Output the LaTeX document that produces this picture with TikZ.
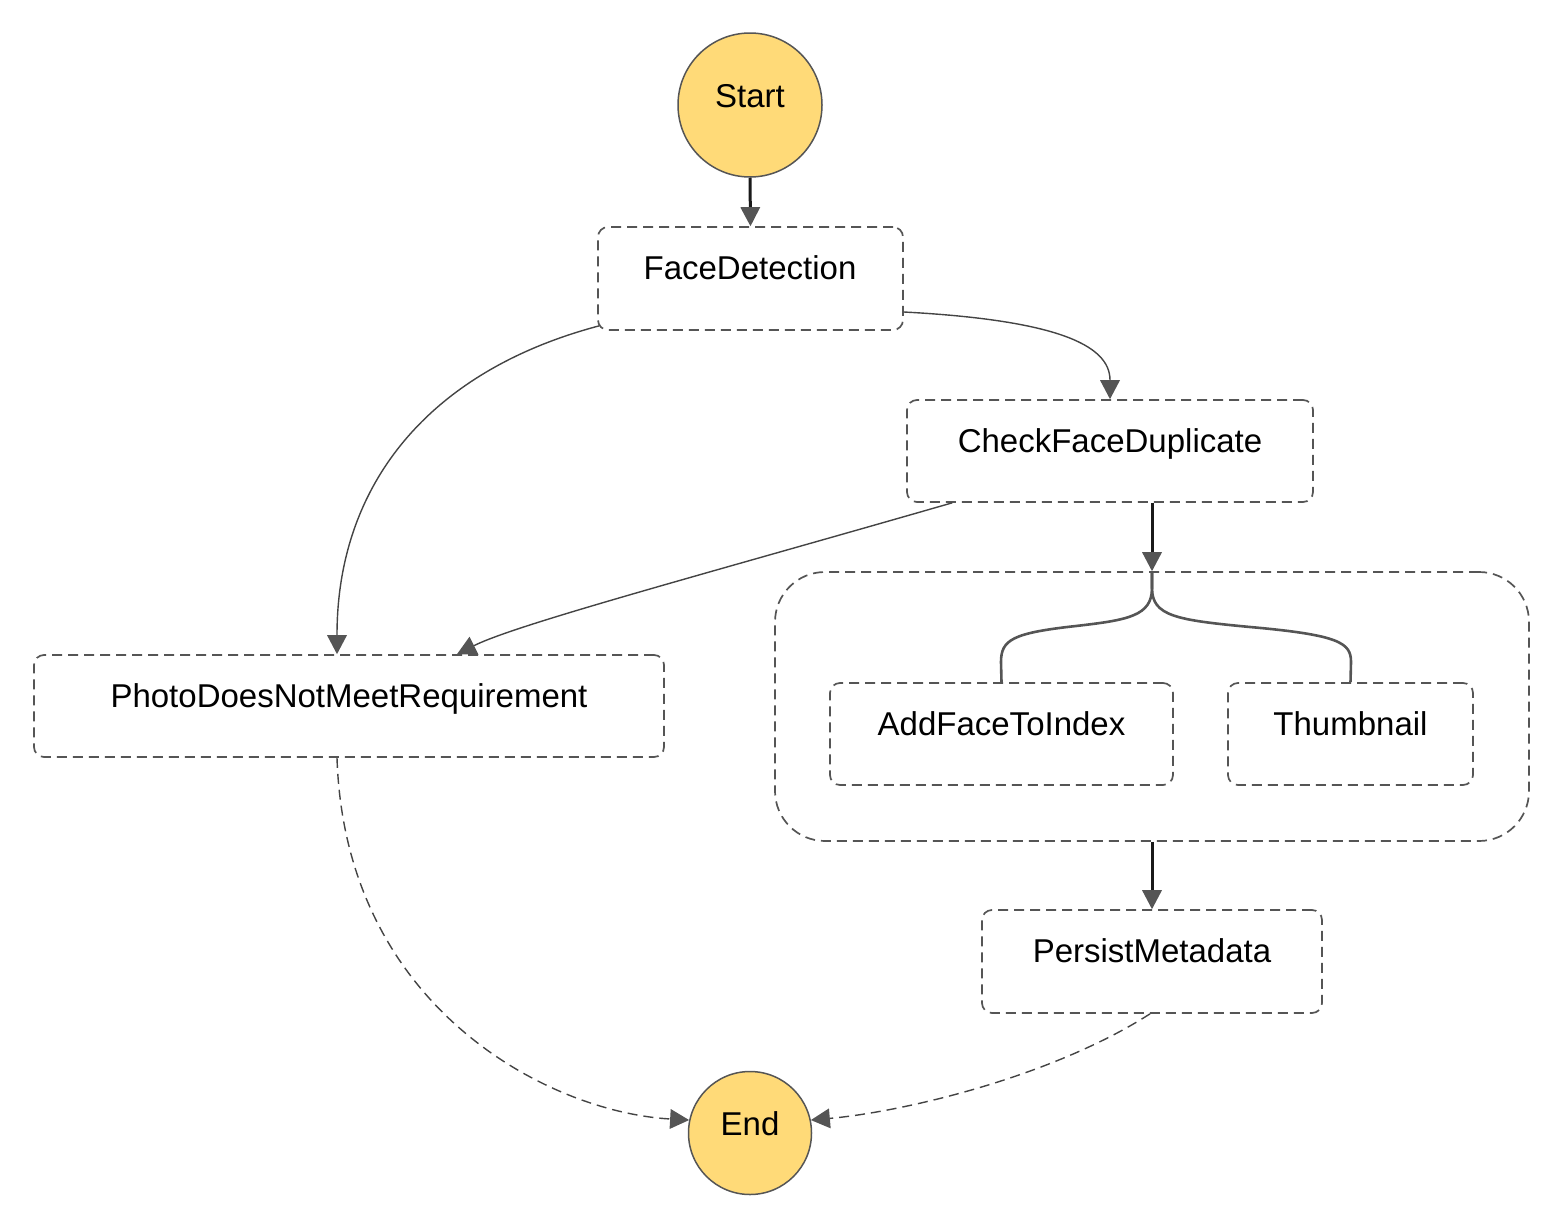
\documentclass[tikz,border=0pt]{standalone}
\usepackage{fontspec}
\setmainfont{Liberation Sans}
\usetikzlibrary{arrows.meta}
\definecolor{startfill}{HTML}{FFDA78}
\definecolor{edgegray}{HTML}{555555}
\definecolor{linegray}{HTML}{444444}
\tikzset{
  statebox/.style={draw=edgegray, line width=0.85pt, dash pattern=on 5pt off 3pt, rounded corners=5pt, inner sep=0pt},
  termcircle/.style={circle, draw=edgegray, line width=0.75pt, fill=startfill, inner sep=0pt},
  lbl/.style={anchor=base, inner sep=0pt, font=\fontsize{16.5pt}{19pt}\selectfont},
  thickarrow/.style={draw=black!90, line width=1.5pt, arrows={-{Triangle[length=9.5pt,width=10pt,color=edgegray,fill=edgegray,line width=0pt]}}},
  thinarrow/.style={draw=linegray, line width=0.7pt, arrows={-{Triangle[length=9.5pt,width=10pt,color=edgegray,fill=edgegray,line width=0pt]}}},
  dasharrow/.style={thinarrow, dash pattern=on 5pt off 3pt},
  branchline/.style={draw=edgegray, line width=1.3pt}
}
\begin{document}
\begin{tikzpicture}[x=0.5pt, y=-0.5pt]
\useasboundingbox (0,0) rectangle (1564,1231);
% terminals
\node[termcircle, minimum size=72pt] (start) at (750,105) {};
\node[lbl] (startlbl) at (750,107) {Start};
\node[termcircle, minimum size=61.5pt] (end) at (750,1133) {};
\node[lbl] (endlbl) at (750,1135) {End};
% container
\node[statebox, rounded corners=25pt, minimum width=377pt, minimum height=134.5pt] (par) at (1152,706.5) {};
% states
\node[statebox, minimum width=152.5pt, minimum height=51.5pt] (fd) at (750.5,278.5) {};
\node[lbl] (fdlbl) at (750,279) {FaceDetection};
\node[statebox, minimum width=203pt, minimum height=51pt] (cfd) at (1110,451) {};
\node[lbl] (cfdlbl) at (1110,452) {CheckFaceDuplicate};
\node[statebox, minimum width=315pt, minimum height=51pt] (photo) at (349,706) {};
\node[lbl] (photolbl) at (349,707) {PhotoDoesNotMeetRequirement};
\node[statebox, minimum width=171.5pt, minimum height=51pt] (af) at (1001.5,734) {};
\node[lbl] (aflbl) at (1001.5,735) {AddFaceToIndex};
\node[statebox, minimum width=122.5pt, minimum height=51pt] (th) at (1350.5,734) {};
\node[lbl] (thlbl) at (1350.5,735) {Thumbnail};
\node[statebox, minimum width=170pt, minimum height=51.5pt] (pm) at (1152,961.5) {};
\node[lbl] (pmlbl) at (1152,962) {PersistMetadata};
% connectors
\draw[thickarrow] (start.south) -- (fd.north);
\draw[thinarrow] ([yshift=-16.75pt]fd.east) .. controls +(150,8) and +(0,-55) .. (cfd.north);
\draw[thinarrow] ([xshift=1pt,yshift=2.5pt]fd.south west) .. controls +(-170,45) and +(0,-170) .. ([xshift=-6pt]photo.north);
\draw[thinarrow] ([xshift=23pt]cfd.south west) .. controls +(-250,72) and +(60,-30) .. ([xshift=54pt]photo.north);
\draw[thickarrow] (par.north |- cfd.south) -- (par.north);
\draw[branchline] (par.north) -- (1152,588) .. controls (1152,616) and (1128,620) .. (1076,626) .. controls (1012,633) and (1001,640) .. (1001,662) -- (af.north);
\draw[branchline] (par.north) -- (1152,588) .. controls (1152,616) and (1176,620) .. (1250,627) .. controls (1340,635) and (1351,643) .. (1351,662) -- (th.north);
\draw[thickarrow] (par.south) -- (pm.north);
\draw[dasharrow] ([xshift=-6pt]photo.south) .. controls +(8,250) and +(-140,-8) .. (end.168);
\draw[dasharrow] ([xshift=-1pt]pm.south) .. controls +(-100,64) and +(90,-8) .. (end.12);
\end{tikzpicture}
\end{document}
